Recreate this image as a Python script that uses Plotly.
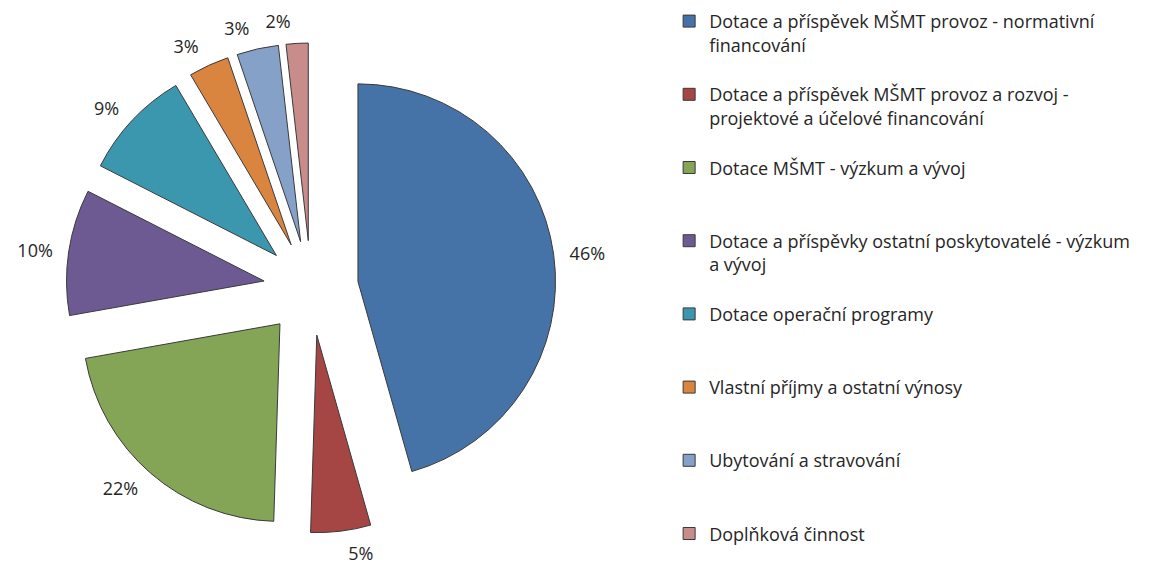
import plotly.graph_objects as go

# Data
labels = [
    'Dotace a příspěvek MŠMT provoz - normativní<br>financování',
    'Dotace a příspěvek MŠMT provoz a rozvoj -<br>projektové a účelové financování',
    'Dotace MŠMT - výzkum a vývoj',
    'Dotace a příspěvky ostatní poskytovatelé - výzkum<br>a vývoj',
    'Dotace operační programy',
    'Vlastní příjmy a ostatní výnosy',
    'Ubytování a stravování',
    'Doplňková činnost',
]
values = [45.6, 4.9, 21.7, 10.3, 9.0, 3.3, 3.4, 1.8]
colors = ['#4573A7', '#A54644', '#84A456', '#6E5A93', '#3B97AD', '#D9843F', '#86A1C8', '#C88C8B']

# pad legend entries to an even 3-line slot (last one left short so it fits)
legend_names = []
for i, lab in enumerate(labels):
    n = lab.count('<br>') + 1
    if i < len(labels) - 1:
        lab = lab + '<br>\u00a0' * (3 - n)
    legend_names.append(lab)

FONT = 'Open Sans'
TXT = '#262626'

fig = go.Figure()
# the pie itself
fig.add_trace(go.Pie(
    labels=legend_names,
    values=values,
    sort=False,
    direction='clockwise',
    rotation=0,
    pull=0.24,
    marker=dict(colors=colors, line=dict(color='#3a3a3a', width=1)),
    textinfo='none',
    domain=dict(x=[0.0503, 0.4757], y=[0.0725, 0.9382]),
    hoverinfo='label+percent',
))
# transparent larger pies that only carry the percent labels, one label each
# so plotly does not stack/scoot the small ones at the top
for i in range(len(values)):
    fig.add_trace(go.Pie(
        labels=legend_names,
        values=values,
        sort=False,
        direction='clockwise',
        rotation=0,
        marker=dict(colors=['rgba(0,0,0,0)'] * len(values), line=dict(width=0)),
        texttemplate='%{percent:.0%}',
        textposition=['outside' if j == i else 'none' for j in range(len(values))],
        textfont=dict(family=FONT, size=18, color=TXT),
        domain=dict(x=[0.0391, 0.4870], y=[0.0548, 0.9558]),
        showlegend=False,
        hoverinfo='skip',
    ))

fig.update_layout(
    width=1152, height=566,
    margin=dict(l=0, r=0, t=0, b=0, autoexpand=False),
    paper_bgcolor='white',
    plot_bgcolor='white',
    showlegend=True,
    legend=dict(
        x=0.5739, y=1.009, xanchor='left', yanchor='top',
        font=dict(family=FONT, size=18, color=TXT),
        valign='top',
        itemwidth=30,
        maxheight=566,
    ),
)

fig.write_html('out.html')
